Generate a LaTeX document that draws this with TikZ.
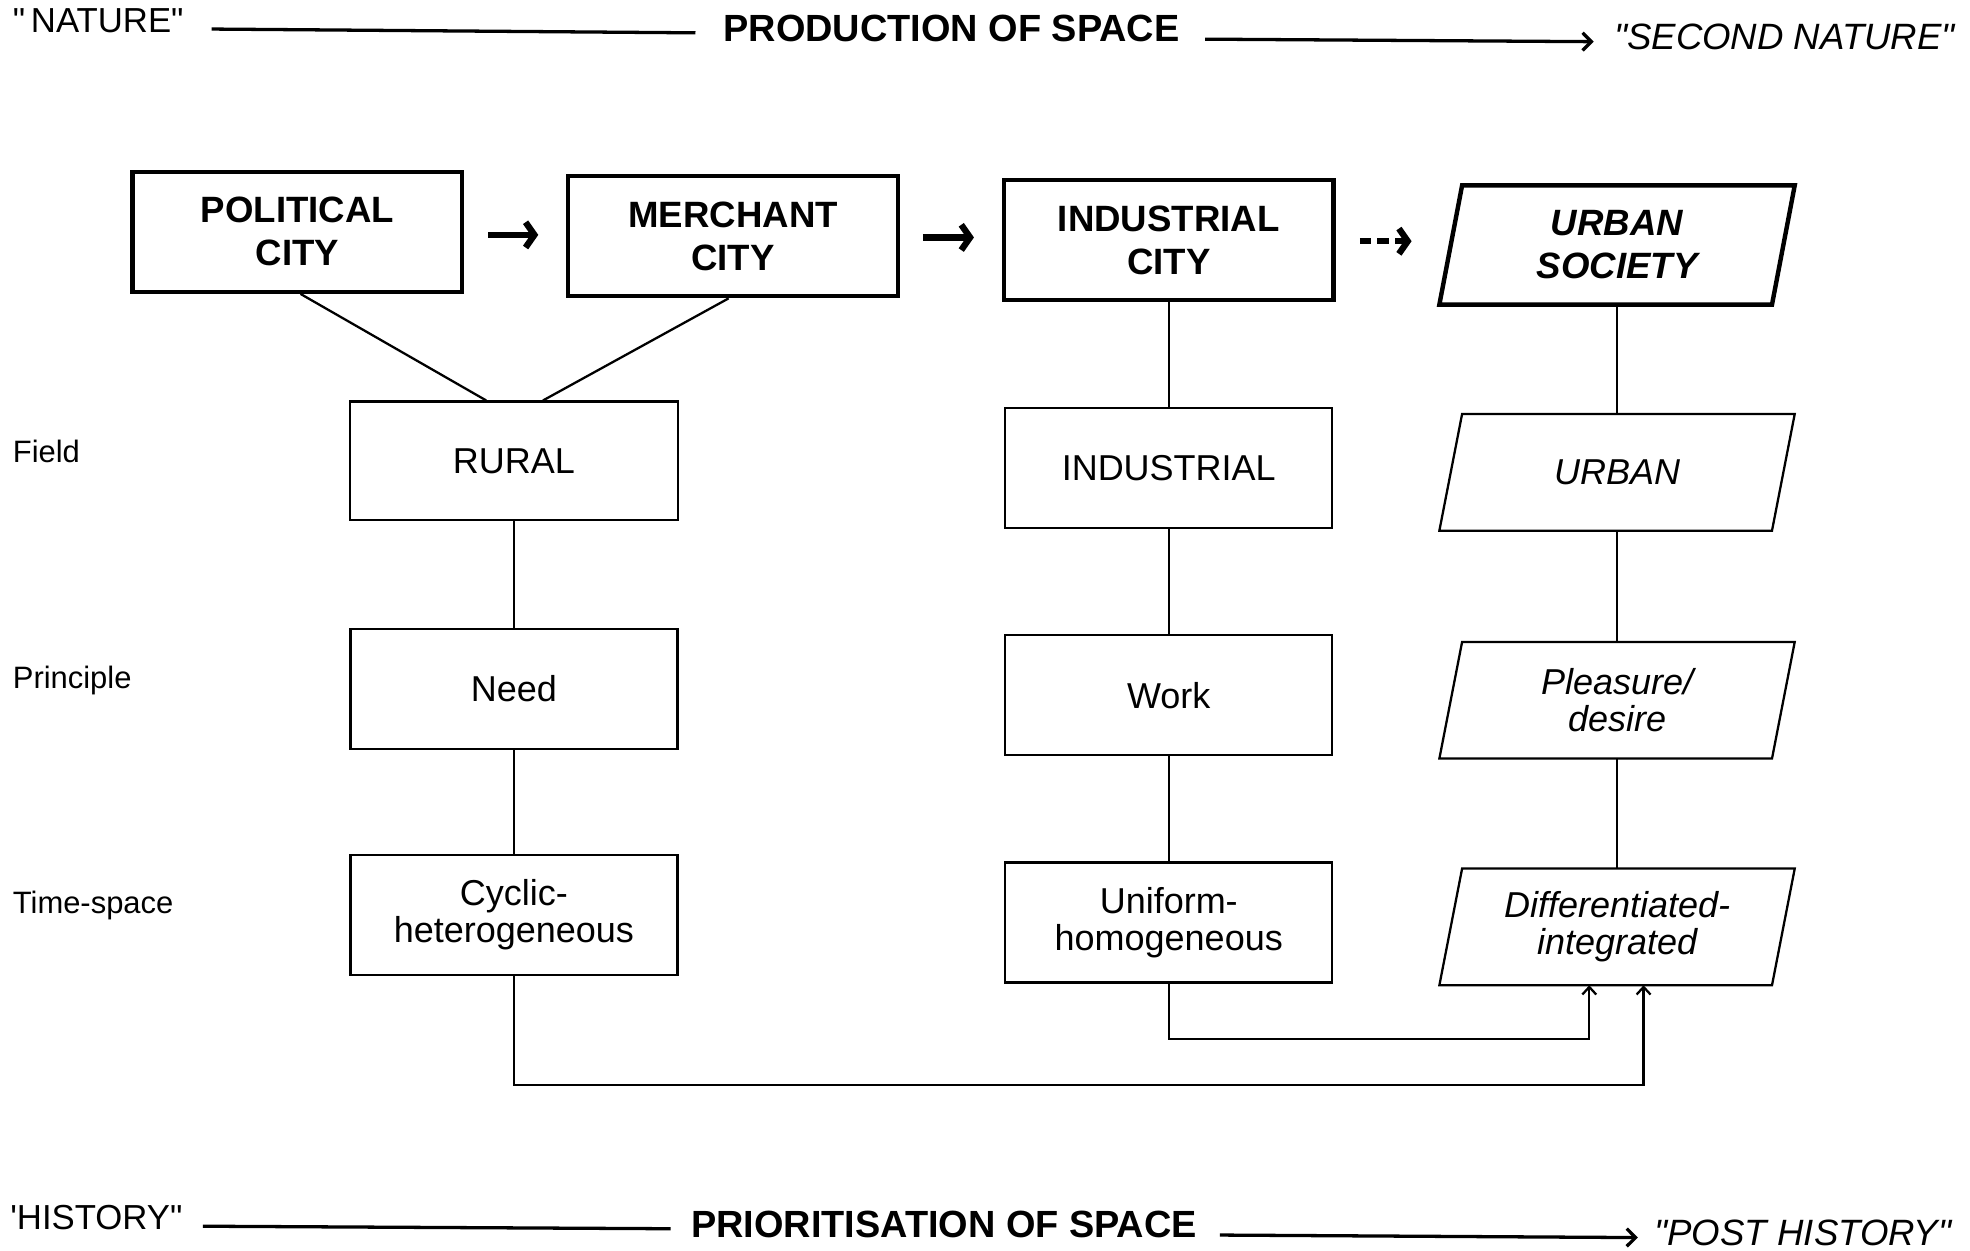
\documentclass[tikz,border=0pt]{standalone}
\usepackage{fontspec}
\setmainfont{Liberation Sans}[Ligatures=TeXOff]
\usetikzlibrary{arrows.meta,calc}
\newcommand\drawparabox[1]{%
  \draw[line width=1.8pt,line join=miter]
    ($(#1.north west)+(9,0)$) -- ($(#1.north east)+(9,0)$) --
    ($(#1.south east)+(-9,0)$) -- ($(#1.south west)+(-9,0)$) -- cycle;}
\newcommand\drawparaboxthick[1]{%
  \draw[line width=3.5pt,line join=miter]
    ($(#1.north west)+(9,0)$) -- ($(#1.north east)+(9,0)$) --
    ($(#1.south east)+(-9,0)$) -- ($(#1.south west)+(-9,0)$) -- cycle;}
\begin{document}
\begin{tikzpicture}[x=1pt,y=-1pt,
  citybox/.style={draw, line width=3.5pt, line join=miter, minimum width=261pt, minimum height=95pt,
    inner sep=0pt, align=center, font=\fontsize{29}{34}\selectfont\bfseries},
  fieldbox/.style={draw, line width=1.8pt, line join=miter, minimum width=259pt, minimum height=95pt,
    inner sep=0pt, align=center, font=\fontsize{28.5}{29.5}\selectfont},
  paranode/.style={minimum width=263pt, minimum height=92pt, inner sep=0pt, align=center,
    font=\fontsize{28.5}{29.5}\selectfont\itshape},
  toplabel/.style={inner sep=0pt, text height=.716em, text depth=0pt, font=\fontsize{27.5}{30}\selectfont},
  headline/.style={inner sep=0pt, text height=.716em, text depth=0pt, font=\fontsize{30}{32}\selectfont\bfseries},
  rowlabel/.style={anchor=west, inner sep=0pt, text height=.716em, text depth=0pt, font=\fontsize{24.5}{26}\selectfont},
  conn/.style={line width=1.8pt},
  longline/.style={line width=2.6pt},
  longarrow/.style={line width=2.6pt, -{Straight Barb[length=7pt,width=14pt]}},
  bigarrow/.style={line width=5pt, -{Straight Barb[length=7pt,width=20pt]}},
  smallarrow/.style={line width=1.8pt, -{Straight Barb[length=6pt,width=11pt]}}
]
\useasboundingbox (0,0) rectangle (1560,990.6);

% top line
\node[toplabel, anchor=west] (nature) at (10,22) {"\,NATURE"};
\node[headline] (prod) at (753.5,29) {PRODUCTION OF SPACE};
\node[toplabel, anchor=west, font=\fontsize{29}{30}\selectfont\itshape] (secnat) at (1278,36) {"SECOND NATURE"};
\draw[longline] ($(nature.east)+(22,1)$) -- ($(prod.west)+(-22,-3)$);
\draw[longarrow] ($(prod.east)+(20,2)$) -- ($(secnat.west)+(-16,-3)$);

% bottom line
\node[toplabel, anchor=west] (hist) at (8,970) {'HISTORY"};
\node[headline] (prio) at (747.5,976) {PRIORITISATION OF SPACE};
\node[toplabel, anchor=west, font=\fontsize{29}{30}\selectfont\itshape] (posthist) at (1310,983) {"POST HISTORY"};
\draw[longline] ($(hist.east)+(16,1)$) -- ($(prio.west)+(-16,-3)$);
\draw[longarrow] ($(prio.east)+(18,2)$) -- ($(posthist.west)+(-13,-3)$);

% row labels
\node[rowlabel] (lfield) at (10,363) {Field};
\node[rowlabel] (lprin) at (10,542) {Principle};
\node[rowlabel] (ltime) at (10,720) {Time-space};

% city row
\node[citybox] (pol) at (235.5,183.5) {POLITICAL\\CITY};
\node[citybox] (mer) at (580.5,187) {MERCHANT\\CITY};
\node[citybox] (indcity) at (925.5,190) {INDUSTRIAL\\CITY};
\node[paranode, minimum height=94pt, font=\fontsize{29}{34}\selectfont\bfseries\itshape] (urbsoc) at (1280.5,194) {URBAN\\SOCIETY};
\drawparaboxthick{urbsoc}

% field row
\node[fieldbox, minimum width=260pt, minimum height=94pt] (rural) at (407,365) {RURAL};
\node[fieldbox] (ind) at (925.5,370.5) {INDUSTRIAL};
\node[paranode] (urb) at (1280.5,374) {URBAN};
\drawparabox{urb}

% principle row
\node[fieldbox] (need) at (407,545.5) {Need};
\node[fieldbox] (work) at (925.5,550.5) {Work};
\node[paranode] (pleas) at (1280.5,554.5) {Pleasure/\\desire};
\drawparabox{pleas}

% time-space row
\node[fieldbox] (cyc) at (407,724.5) {Cyclic-\\heterogeneous};
\node[fieldbox] (unif) at (925.5,730.5) {Uniform-\\homogeneous};
\node[paranode] (diff) at (1280.5,734) {Differentiated-\\integrated};
\drawparabox{diff}

% arrows between cities
\draw[bigarrow] ($(pol.east)+(19,2.5)$) -- ($(mer.west)+(-22,-1)$);
\draw[bigarrow] ($(mer.east)+(18,1)$) -- ($(indcity.west)+(-22,-2)$);
\draw[bigarrow, dash pattern=on 9pt off 5pt] ($(indcity.east)+(19,1)$) -- ($(urbsoc.west)+(-31,-3)$);

% vertical connectors
\draw[conn] ($(pol.south)+(2.5,0)$) -- ($(rural.north)+(-22,0)$);
\draw[conn] ($(mer.south)+(-3.5,0)$) -- ($(rural.north)+(23,0)$);
\draw[conn] (rural.south) -- (need.north);
\draw[conn] (need.south) -- (cyc.north);
\draw[conn] (indcity.south) -- (ind.north);
\draw[conn] (ind.south) -- (work.north);
\draw[conn] (work.south) -- (unif.north);
\draw[conn] (urbsoc.south) -- (urb.north);
\draw[conn] (urb.south) -- (pleas.north);
\draw[conn] (pleas.south) -- (diff.north);

% bottom connectors
\draw[smallarrow] (unif.south) -- ++(0,44) -| ($(diff.south)+(-22,0)$);
\draw[smallarrow] (cyc.south) -- ++(0,86) -| ($(diff.south)+(21,0)$);
\end{tikzpicture}
\end{document}
